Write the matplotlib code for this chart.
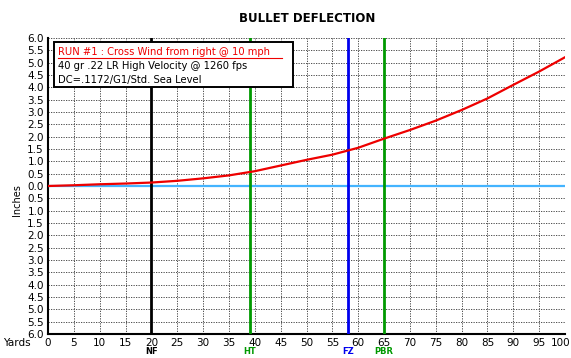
import matplotlib
matplotlib.use("Agg")
import matplotlib.pyplot as plt
import matplotlib.transforms as mtransforms
from matplotlib.patches import Rectangle

# wind drift (inches) every 5 yards
yards = [0, 5, 10, 15, 20, 25, 30, 35, 40, 45, 50,
         55, 60, 65, 70, 75, 80, 85, 90, 95, 100]
drift = [0.00, 0.03, 0.07, 0.10, 0.14, 0.21, 0.31, 0.43, 0.60, 0.83, 1.06,
         1.27, 1.55, 1.92, 2.27, 2.65, 3.08, 3.55, 4.10, 4.64, 5.22]

# range markers
mark_yards = [20, 39, 58, 65]
mark_names = ['NF', 'HT', 'FZ', 'PBR']
mark_colors = ['black', '#009900', '#0000ee', '#009900']

legend_lines = ['RUN #1 : Cross Wind from right @ 10 mph',
                '40 gr .22 LR High Velocity @ 1260 fps',
                'DC=.1172/G1/Std. Sea Level']

x_ticks = list(range(0, 101, 5))
y_ticks = [v / 2 for v in range(-12, 13)]

fig = plt.figure(figsize=(5.71, 3.58), dpi=100)
ax = fig.add_axes([48/571, 1 - 334/358, 517/571, 296/358])

ax.set_xlim(0, 100)
ax.set_ylim(-6, 6)
ax.set_xticks(x_ticks)
ax.set_yticks(y_ticks)
ax.set_yticklabels(['%.1f' % abs(v) for v in y_ticks])
ax.tick_params(length=0, labelsize=7.5, pad=3)
ax.grid(True, color='#333333', linestyle=(0, (1.5, 1.5)), lw=0.6)
for s in ['top', 'right']:
    ax.spines[s].set_visible(False)
ax.spines['left'].set_linewidth(1.5)
ax.spines['bottom'].set_linewidth(1.5)

# keep the "100" label inside the figure
last = ax.get_xticklabels()[-1]
last.set_horizontalalignment('right')
last.set_transform(last.get_transform() +
                   mtransforms.ScaledTranslation(5/100, 0, fig.dpi_scale_trans))

ax.axhline(0, color='#44b4ff', lw=1.6, zorder=3)
for xv, name, c in zip(mark_yards, mark_names, mark_colors):
    ax.axvline(xv, color=c, lw=2, zorder=4)
    ax.text(xv, -6.88, name, color=c, fontsize=6, ha='center', va='bottom',
            fontweight='bold', clip_on=False)
ax.plot(yards, drift, color='#ee0000', lw=1.6, zorder=5)

# legend box
ax.add_patch(Rectangle((1.2, 4.0), 46.2, 1.85, facecolor='white',
                       edgecolor='black', lw=1.4, zorder=6))
ax.text(2.0, 5.45, legend_lines[0], color='#ee0000', fontsize=7.2,
        va='center', zorder=7)
ax.plot([2.0, 45.2], [5.17, 5.17], color='#ee0000', lw=0.8, zorder=7)
ax.text(2.0, 4.85, legend_lines[1], color='black', fontsize=7.2,
        va='center', zorder=7)
ax.text(2.0, 4.3, legend_lines[2], color='black', fontsize=7.2,
        va='center', zorder=7)

fig.text(307/571, 1 - 18/358, 'BULLET DEFLECTION', ha='center', va='center',
         fontsize=8.5, fontweight='bold')
fig.text(17/571, 1 - 200/358, 'Inches', rotation=90, ha='center',
         va='center', fontsize=7)
fig.text(3/571, 1 - 343/358, 'Yards', ha='left', va='center', fontsize=7.5)

fig.savefig('out.png', dpi=100)
